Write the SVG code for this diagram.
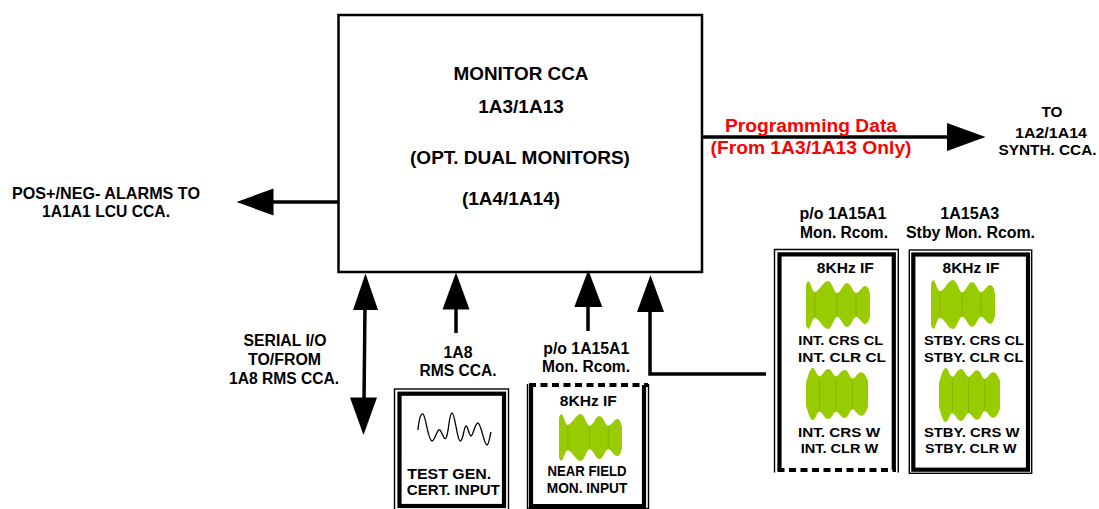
<svg xmlns="http://www.w3.org/2000/svg" width="1099" height="509" viewBox="0 0 1099 509">
  <style>
    .t { font-family: "Liberation Sans", Arial, sans-serif; font-weight: bold; fill: #000; text-anchor: middle; }
    .red { fill: #ff0000; }
    .wire { stroke: #000; stroke-width: 3.5; fill: none; }
    .head { fill: #000; }
    .thin { fill: none; stroke: #000; stroke-width: 1.4; }
    .thick { fill: none; stroke: #000; stroke-width: 4.2; }
    .dash { fill: none; stroke: #000; stroke-width: 4.2; stroke-dasharray: 7 4.5; }
  </style>
  <defs>
    <!-- IF envelope, starts on a tall edge -->
    <symbol id="envA" viewBox="0 0 64 50" preserveAspectRatio="none">
      <path fill="#99cc00" d="M0,25 L0,5 C1,1 3,0 4,3 C6,8 7,12 9,12 C13,12 17,1 22,1 C26,1 28,13 31,13 C35,13 37,3 41,3 C45,3 47,13 50,13 C53,13 56,6 59,6 C62,6 63,10 64,14 L64,36 C63,40 62,44 59,44 C56,44 53,37 50,37 C47,37 45,47 41,47 C37,47 35,37 31,37 C28,37 26,49 22,49 C17,49 13,38 9,38 C7,38 6,42 4,47 C3,50 1,49 0,45 Z"/>
      <path stroke="#86b300" stroke-width="1" d="M9,13 V37 M31,14 V36 M50,14 V36"/>
    </symbol>
    <!-- IF envelope, starts low and rises -->
    <symbol id="envB" viewBox="0 0 64 50" preserveAspectRatio="none">
      <path fill="#99cc00" d="M0,25 L0,14 C2,8 4,0 7,0 C10,0 11,8 14,8 C17,8 19,1 23,1 C27,1 28,8 31,8 C34,8 36,2 40,2 C44,2 45,10 48,10 C51,10 53,4 57,4 C60,4 62,8 64,12 L64,38 C62,42 60,46 57,46 C53,46 51,40 48,40 C45,40 44,48 40,48 C36,48 34,42 31,42 C28,42 27,49 23,49 C19,49 17,42 14,42 C11,42 10,50 7,50 C4,50 2,42 0,36 Z"/>
      <path stroke="#86b300" stroke-width="1" d="M14,9 V41 M31,9 V41 M48,11 V39"/>
    </symbol>
  </defs>

  <!-- monitor board -->
  <g id="monitor-cca">
    <rect x="338.5" y="15" width="363.5" height="257" fill="#fff" stroke="#000" stroke-width="2.5"/>
    <text class="t" x="521" y="80" font-size="19" textLength="135" lengthAdjust="spacingAndGlyphs">MONITOR CCA</text>
    <text class="t" x="521" y="113" font-size="19">1A3/1A13</text>
    <text class="t" x="520" y="164" font-size="19">(OPT. DUAL MONITORS)</text>
    <text class="t" x="511" y="205" font-size="19" textLength="98" lengthAdjust="spacingAndGlyphs">(1A4/1A14)</text>
  </g>

  <!-- connectors -->
  <g id="connectors">
    <!-- alarms out to the left -->
    <line class="wire" x1="338" y1="202" x2="270" y2="202"/>
    <polygon class="head" points="236.5,202 273.5,188.5 273.5,215.5"/>
    <!-- programming data out to the right -->
    <line class="wire" x1="702" y1="137" x2="950" y2="137"/>
    <polygon class="head" points="985.5,137 947,123 947,151"/>
    <!-- serial I/O, both ways -->
    <line class="wire" x1="365" y1="305" x2="364" y2="402"/>
    <polygon class="head" points="365.5,273.5 353,310 378,310"/>
    <polygon class="head" points="363.5,435 350,397.5 377,397.5"/>
    <!-- 1A8 RMS input -->
    <line class="wire" x1="456" y1="305" x2="456" y2="333"/>
    <polygon class="head" points="456,272.5 442.5,309.5 469.5,309.5"/>
    <!-- near field input -->
    <line class="wire" x1="588" y1="302" x2="588" y2="331"/>
    <polygon class="head" points="588.3,270 574.3,307 602.3,307"/>
    <!-- remote IF inputs -->
    <polyline class="wire" points="650,307 650,374 766,374"/>
    <polygon class="head" points="650.5,275 637,312 664,312"/>
  </g>

  <!-- left label -->
  <g id="alarms-label">
    <text class="t" x="106" y="199" font-size="16.5" textLength="188" lengthAdjust="spacingAndGlyphs">POS+/NEG- ALARMS TO</text>
    <text class="t" x="106" y="217" font-size="16.5" textLength="128" lengthAdjust="spacingAndGlyphs">1A1A1 LCU CCA.</text>
  </g>

  <g id="programming-label">
    <text class="t red" x="811" y="132" font-size="17.5" textLength="172" lengthAdjust="spacingAndGlyphs">Programming Data</text>
    <text class="t red" x="811" y="153.5" font-size="17.5" textLength="201" lengthAdjust="spacingAndGlyphs">(From 1A3/1A13 Only)</text>
  </g>

  <g id="synth-label">
    <text class="t" x="1052" y="117" font-size="14.5" textLength="21" lengthAdjust="spacingAndGlyphs">TO</text>
    <text class="t" x="1051" y="137.5" font-size="14.5" textLength="72" lengthAdjust="spacingAndGlyphs">1A2/1A14</text>
    <text class="t" x="1047.5" y="154.5" font-size="14.5" textLength="98" lengthAdjust="spacingAndGlyphs">SYNTH. CCA.</text>
  </g>

  <g id="serial-label">
    <text class="t" x="285" y="346" font-size="16" textLength="83" lengthAdjust="spacingAndGlyphs">SERIAL I/O</text>
    <text class="t" x="284.5" y="365" font-size="16" textLength="73" lengthAdjust="spacingAndGlyphs">TO/FROM</text>
    <text class="t" x="284" y="383.5" font-size="16" textLength="110" lengthAdjust="spacingAndGlyphs">1A8 RMS CCA.</text>
  </g>

  <g id="rms-label">
    <text class="t" x="458" y="358" font-size="16" textLength="29" lengthAdjust="spacingAndGlyphs">1A8</text>
    <text class="t" x="458" y="376" font-size="16" textLength="77" lengthAdjust="spacingAndGlyphs">RMS CCA.</text>
  </g>

  <g id="near-field-label">
    <text class="t" x="586.3" y="354" font-size="16" textLength="86" lengthAdjust="spacingAndGlyphs">p/o 1A15A1</text>
    <text class="t" x="586" y="372" font-size="16" textLength="88" lengthAdjust="spacingAndGlyphs">Mon. Rcom.</text>
  </g>

  <!-- test generator box -->
  <g id="test-gen">
    <rect x="394.5" y="389" width="114" height="130" fill="#fff" class="thin"/>
    <rect x="399.5" y="393.7" width="104.5" height="112.3" class="thick"/>
    <path fill="none" stroke="#000" stroke-width="1.3" d="M418,430 C419,418 421,413 423,414 C426,416 428,441 432,441 C435,441 437,428 440,430 C442,432 444,441 446,438 C449,433 449,413 452,413 C455,413 457,440 460,441 C463,442 464,426 466,426 C468,426 469,436 471,436 C473,436 475,423 478,423 C481,423 484,445 487,445 C489,445 490,435 491,432"/>
    <text class="t" x="449.2" y="479.3" font-size="14" textLength="84" lengthAdjust="spacingAndGlyphs">TEST GEN.</text>
    <text class="t" x="453.3" y="495" font-size="14" textLength="93" lengthAdjust="spacingAndGlyphs">CERT. INPUT</text>
  </g>

  <!-- near field monitor box -->
  <g id="near-field">
    <rect x="527.5" y="385" width="121" height="123.5" fill="#fff" stroke="none"/>
    <path class="thin" d="M527.5,384 V508.5 H648.5 V384"/>
    <path class="thick" d="M531,385 V506 H644 V385"/>
    <line class="dash" x1="529" y1="385" x2="648" y2="385"/>
    <text class="t" x="588.3" y="406" font-size="14.5" textLength="57" lengthAdjust="spacingAndGlyphs">8KHz IF</text>
    <use href="#envA" x="559" y="413" width="63" height="49"/>
    <text class="t" x="587" y="476" font-size="14" textLength="79" lengthAdjust="spacingAndGlyphs">NEAR FIELD</text>
    <text class="t" x="587" y="492.7" font-size="14" textLength="80.5" lengthAdjust="spacingAndGlyphs">MON. INPUT</text>
  </g>

  <!-- remote monitor receiver box -->
  <g id="mon-rcom">
    <text class="t" x="843" y="219" font-size="16" textLength="87" lengthAdjust="spacingAndGlyphs">p/o 1A15A1</text>
    <text class="t" x="844" y="237.7" font-size="16" textLength="88" lengthAdjust="spacingAndGlyphs">Mon. Rcom.</text>
    <rect x="774.5" y="249.5" width="124" height="223" fill="#fff" stroke="none"/>
    <path class="thin" d="M774.5,472.5 V249.5 H898.3 V472.5"/>
    <path class="thick" d="M779.5,470 V254.3 H893.8 V470"/>
    <line class="dash" x1="777.5" y1="470" x2="896" y2="470"/>
    <text class="t" x="845.3" y="272.7" font-size="14.5" textLength="57" lengthAdjust="spacingAndGlyphs">8KHz IF</text>
    <use href="#envA" x="806" y="280" width="64" height="50"/>
    <text class="t" x="840.8" y="345" font-size="13.5" textLength="85" lengthAdjust="spacingAndGlyphs">INT. CRS CL</text>
    <text class="t" x="842" y="362.3" font-size="13.5" textLength="88" lengthAdjust="spacingAndGlyphs">INT. CLR CL</text>
    <use href="#envB" x="806" y="368" width="62" height="52"/>
    <text class="t" x="839" y="436.7" font-size="13.5" textLength="82" lengthAdjust="spacingAndGlyphs">INT. CRS W</text>
    <text class="t" x="839.5" y="453.3" font-size="13.5" textLength="77.5" lengthAdjust="spacingAndGlyphs">INT. CLR W</text>
  </g>

  <!-- standby remote monitor receiver box -->
  <g id="stby-mon-rcom">
    <text class="t" x="969.7" y="219" font-size="16" textLength="59" lengthAdjust="spacingAndGlyphs">1A15A3</text>
    <text class="t" x="970.5" y="237.7" font-size="16" textLength="129" lengthAdjust="spacingAndGlyphs">Stby Mon. Rcom.</text>
    <rect x="909.3" y="250" width="122.4" height="223.3" fill="#fff" class="thin"/>
    <rect x="913.3" y="254.5" width="114.7" height="215.2" class="thick"/>
    <text class="t" x="971" y="272.7" font-size="14.5" textLength="57" lengthAdjust="spacingAndGlyphs">8KHz IF</text>
    <use href="#envA" x="931" y="279" width="64" height="51"/>
    <text class="t" x="974" y="345" font-size="13.5" textLength="100" lengthAdjust="spacingAndGlyphs">STBY. CRS CL</text>
    <text class="t" x="973.7" y="362.3" font-size="13.5" textLength="99.5" lengthAdjust="spacingAndGlyphs">STBY. CLR CL</text>
    <use href="#envB" x="939" y="368" width="61" height="54"/>
    <text class="t" x="971.7" y="436.7" font-size="13.5" textLength="95.5" lengthAdjust="spacingAndGlyphs">STBY. CRS W</text>
    <text class="t" x="970.8" y="453.3" font-size="13.5" textLength="91.5" lengthAdjust="spacingAndGlyphs">STBY. CLR W</text>
  </g>
</svg>
